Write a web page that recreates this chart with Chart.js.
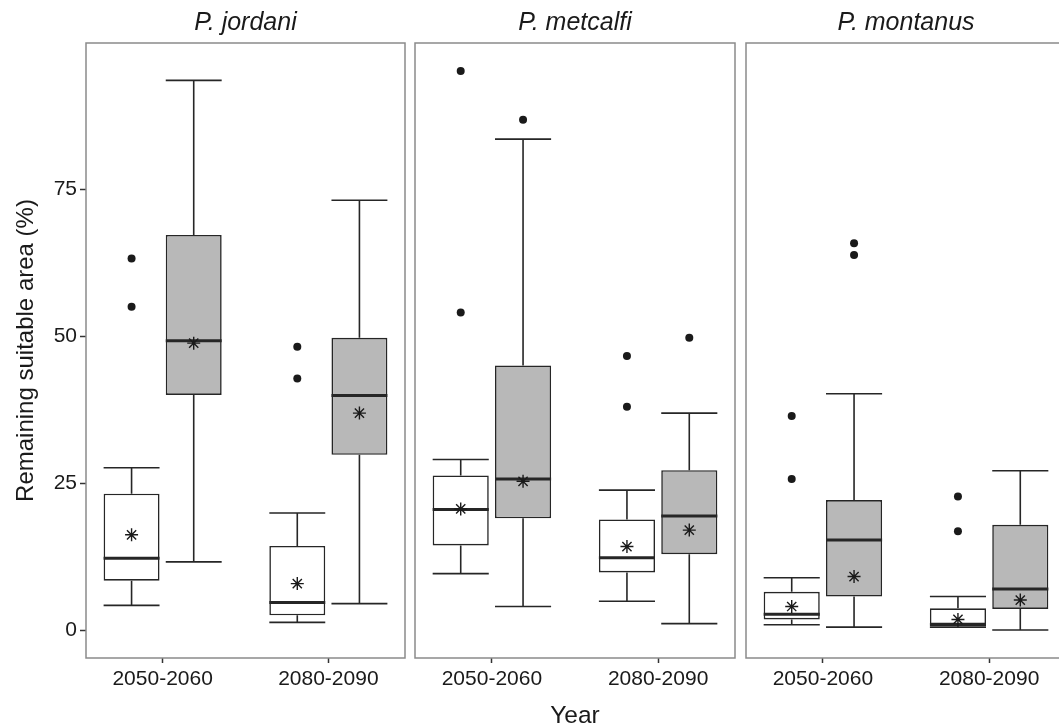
<!DOCTYPE html>
<html>
<head>
<meta charset="utf-8">
<script src="https://cdn.jsdelivr.net/npm/chart.js@4"></script>
<style>
  html, body { margin: 0; padding: 0; background: #fff; overflow: hidden; }
  #wrap { position: relative; width: 1059px; height: 728px; overflow: hidden; }
  canvas { position: absolute; top: 0; }
</style>
</head>
<body>
<div id="wrap">
  <canvas id="c1" width="410" height="728" style="left:0px"></canvas>
  <canvas id="c2" width="330" height="728" style="left:410px"></canvas>
  <canvas id="c3" width="330" height="728" style="left:740px"></canvas>
</div>
<script>
const species = ['P. jordani', 'P. metcalfi', 'P. montanus'];
const periods = ['2050-2060', '2080-2090'];
const yTicks = [0, 25, 50, 75];

// white boxes, indexed [species][period]
const whiteLow  = [[4.2, 1.3], [9.6, 4.9], [0.9, 0.5]];
const whiteQ1   = [[8.4, 2.5], [14.4, 9.8], [1.8, 0.7]];
const whiteMed  = [[12.2, 4.7], [20.5, 12.3], [2.7, 1.0]];
const whiteQ3   = [[23.2, 14.3], [26.3, 18.8], [6.5, 3.7]];
const whiteHigh = [[27.6, 19.9], [29.0, 23.8], [8.9, 5.7]];
const whiteMean = [[16.2, 7.9], [20.6, 14.2], [4.0, 1.8]];
const whiteOut  = [[[63.2, 55.0], [48.2, 42.8]], [[95.1, 54.0], [46.6, 38.0]], [[36.4, 25.7], [22.7, 16.8]]];

// grey boxes
const greyLow  = [[11.6, 4.5], [4.0, 1.1], [0.5, 0.0]];
const greyQ1   = [[40.0, 29.8], [19.0, 12.9], [5.7, 3.6]];
const greyMed  = [[49.2, 39.9], [25.7, 19.4], [15.3, 7.0]];
const greyQ3   = [[67.2, 49.7], [45.0, 27.2], [22.1, 17.9]];
const greyHigh = [[93.5, 73.1], [83.5, 36.9], [40.2, 27.1]];
const greyMean = [[48.8, 36.9], [25.3, 17.0], [9.1, 5.1]];
const greyOut  = [[[], []], [[86.8], [49.7]], [[65.8, 63.8], []]];

const FONT = '"Liberation Sans", Arial, sans-serif';
const INK = '#1a1a1a';
const DODGE = 0.1875;

Chart.defaults.font.family = FONT;

// y range like ggplot: data range + 5% each side
const allVals = [whiteLow, whiteHigh, greyLow, greyHigh].flat(2)
  .concat(whiteOut.flat(2), greyOut.flat(2));
const dMin = Math.min(...allVals), dMax = Math.max(...allVals);
const yMin = dMin - (dMax - dMin) * 0.05;
const yMax = dMax + (dMax - dMin) * 0.05;

// whiskers + median for every box
const boxLines = {
  id: 'boxLines',
  afterDatasetDraw(chart, args) {
    const ds = chart.data.datasets[args.index];
    if (!ds.whisk) return;
    const ctx = chart.ctx;
    const y = chart.scales.y;
    ctx.save();
    ctx.strokeStyle = '#262626';
    args.meta.data.forEach((bar, i) => {
      const half = bar.width / 2;
      const q1 = y.getPixelForValue(ds.data[i].y[0]);
      const q3 = y.getPixelForValue(ds.data[i].y[1]);
      const lo = y.getPixelForValue(ds.whisk.low[i]);
      const hi = y.getPixelForValue(ds.whisk.high[i]);
      const md = y.getPixelForValue(ds.whisk.med[i]);
      ctx.lineWidth = 1.6;
      ctx.beginPath();
      ctx.moveTo(bar.x, q3); ctx.lineTo(bar.x, hi);
      ctx.moveTo(bar.x - half, hi); ctx.lineTo(bar.x + half, hi);
      ctx.moveTo(bar.x, q1); ctx.lineTo(bar.x, lo);
      ctx.moveTo(bar.x - half, lo); ctx.lineTo(bar.x + half, lo);
      ctx.stroke();
      ctx.lineWidth = 3;
      ctx.beginPath();
      ctx.moveTo(bar.x - half, md); ctx.lineTo(bar.x + half, md);
      ctx.stroke();
    });
    ctx.restore();
  }
};

const panelBorder = {
  id: 'panelBorder',
  afterDraw(chart) {
    const a = chart.chartArea, ctx = chart.ctx;
    ctx.save();
    ctx.strokeStyle = '#8a8a8a';
    ctx.lineWidth = 1.5;
    ctx.strokeRect(a.left, a.top, a.right - a.left, a.bottom - a.top);
    ctx.restore();
  }
};

function boxSet(q1, q3, low, med, high, fill) {
  return {
    type: 'bar',
    data: periods.map((p, i) => ({ x: i + 1, y: [q1[i], q3[i]] })),
    whisk: { low, med, high },
    backgroundColor: fill,
    borderColor: '#262626',
    borderWidth: 1.6,
    borderSkipped: false,
    categoryPercentage: 0.75,
    barPercentage: 0.9,
    order: 2
  };
}

function pointSet(vals, shift, style) {
  const pts = [];
  vals.forEach((v, i) => [].concat(v).forEach(val => pts.push({ x: i + 1 + shift, y: val })));
  const isMean = style === 'star';
  return {
    type: 'scatter',
    data: pts,
    pointStyle: style,
    pointRadius: isMean ? 6.5 : 4,
    pointBackgroundColor: isMean ? 'rgba(0,0,0,0)' : INK,
    pointBorderColor: INK,
    pointBorderWidth: isMean ? 1.4 : 0,
    order: 1
  };
}

function makeChart(id, s, showY, showXTitle, padL, padR) {
  const tickGrid = { drawOnChartArea: false, drawTicks: true, offset: false, tickColor: '#333', tickWidth: 1.5 };
  new Chart(document.getElementById(id), {
    data: {
      datasets: [
        boxSet(whiteQ1[s], whiteQ3[s], whiteLow[s], whiteMed[s], whiteHigh[s], '#ffffff'),
        boxSet(greyQ1[s], greyQ3[s], greyLow[s], greyMed[s], greyHigh[s], '#b8b8b8'),
        pointSet(whiteOut[s], -DODGE, 'circle'),
        pointSet(greyOut[s], DODGE, 'circle'),
        pointSet(whiteMean[s], -DODGE, 'star'),
        pointSet(greyMean[s], DODGE, 'star')
      ]
    },
    options: {
      responsive: false,
      animation: false,
      events: [],
      layout: { autoPadding: false, padding: { left: padL, right: padR, top: 0, bottom: 0 } },
      plugins: {
        legend: { display: false },
        tooltip: { enabled: false },
        title: {
          display: true,
          text: species[s],
          fullSize: false,
          color: INK,
          font: { size: 25, style: 'italic', weight: 'normal', lineHeight: 1.2 },
          padding: { top: 8, bottom: 5 }
        }
      },
      scales: {
        x: {
          type: 'linear',
          offset: false,
          min: 0.5375,
          max: 2.4625,
          afterBuildTicks: sc => { sc.ticks = periods.map((p, i) => ({ value: i + 1 })); },
          afterFit: sc => { sc.height = 70; },
          ticks: {
            callback: v => periods[v - 1],
            color: INK,
            font: { size: 21 },
            padding: 4,
            maxRotation: 0,
            autoSkip: false
          },
          grid: Object.assign({ tickLength: 5 }, tickGrid),
          border: { display: false },
          title: {
            display: showXTitle,
            text: 'Year',
            color: INK,
            font: { size: 24.5, lineHeight: 1 },
            padding: { top: 0, bottom: 0 }
          }
        },
        y: {
          display: showY,
          min: yMin,
          max: yMax,
          afterBuildTicks: sc => { sc.ticks = yTicks.map(v => ({ value: v })); },
          afterFit: sc => { sc.width = showY ? 86 : 0; },
          ticks: { color: INK, font: { size: 21 }, padding: 3 },
          grid: Object.assign({ tickLength: 6 }, tickGrid),
          border: { display: false },
          title: {
            display: true,
            text: 'Remaining suitable area (%)',
            color: INK,
            font: { size: 24 },
            padding: { top: 12, bottom: 0 }
          }
        }
      }
    },
    plugins: [boxLines, panelBorder]
  });
}

makeChart('c1', 0, true, false, 0, 5);
makeChart('c2', 1, false, true, 5, 5);
makeChart('c3', 2, false, false, 6, 4);
</script>
</body>
</html>
